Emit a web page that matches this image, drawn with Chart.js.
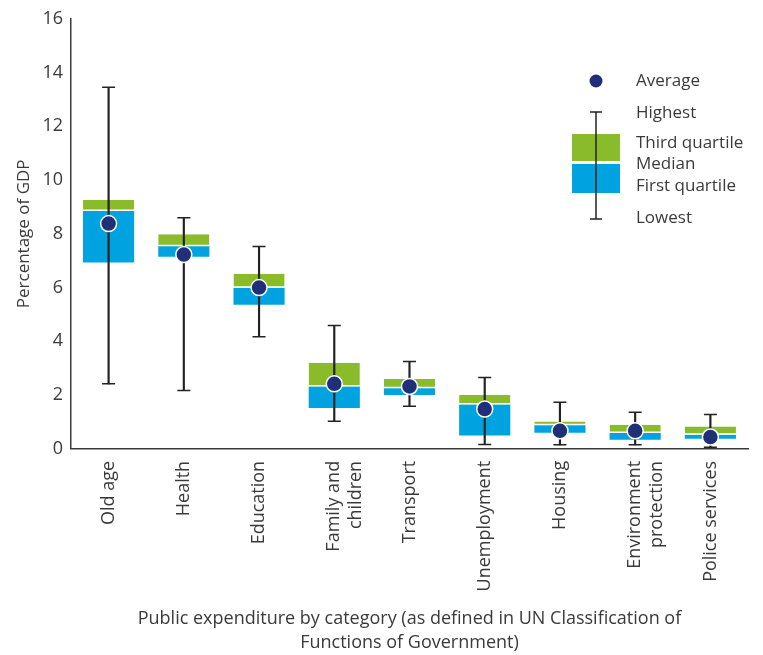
<!DOCTYPE html>
<html>
<head>
<meta charset="utf-8">
<script src="https://cdn.jsdelivr.net/npm/chart.js@4.4.1/dist/chart.umd.min.js"></script>
<style>
  body { margin: 0; background: #fff; }
  #wrap { width: 763px; height: 655px; }
</style>
</head>
<body>
<div id="wrap"><canvas id="myChart" width="763" height="655"></canvas></div>
<script>
// spending categories and the box plot numbers (% of GDP)
let categories = ['Old age', 'Health', 'Education', ['Family and', 'children'], 'Transport', 'Unemployment', 'Housing', ['Environment', 'protection'], 'Police services'];
let highest = [13.45, 8.6, 7.53, 4.59, 3.25, 2.65, 1.73, 1.36, 1.28];
let lowest = [2.42, 2.17, 4.17, 1.03, 1.58, 0.16, 0.15, 0.15, 0.06];
let thirdQuartile = [9.26, 7.98, 6.51, 3.2, 2.6, 2.0, 1.02, 0.9, 0.83];
let median = [8.85, 7.54, 5.99, 2.32, 2.25, 1.65, 0.88, 0.59, 0.52];
let firstQuartile = [6.93, 7.15, 5.36, 1.52, 2.0, 0.5, 0.6, 0.34, 0.38];
let average = [8.38, 7.23, 6.0, 2.42, 2.32, 1.48, 0.67, 0.67, 0.44];
let yTicks = [0, 2, 4, 6, 8, 10, 12, 14, 16];

let green = '#8abb2a';
let blue = '#00a3df';
let navy = '#1f2f78';
let ink = '#3a3a3a';

let lowerBox = firstQuartile.map((v, i) => [v, median[i]]);
let upperBox = median.map((v, i) => [v, thirdQuartile[i]]);
let whisker = lowest.map((v, i) => [v, highest[i]]);

// hand drawn key in the top right corner
let keyPlugin = {
    id: 'boxKey',
    afterDraw: function(chart) {
        let c = chart.ctx;
        c.save();
        c.fillStyle = green;
        c.fillRect(572, 134, 48, 27);
        c.fillStyle = blue;
        c.fillRect(572, 164, 48, 29);
        c.strokeStyle = '#222';
        c.lineWidth = 1.5;
        c.beginPath();
        c.moveTo(596, 112); c.lineTo(596, 219);
        c.moveTo(590, 112); c.lineTo(602, 112);
        c.moveTo(590, 219); c.lineTo(602, 219);
        c.stroke();
        c.fillStyle = navy;
        c.beginPath();
        c.arc(596, 81, 6.5, 0, Math.PI * 2);
        c.fill();
        c.fillStyle = ink;
        c.font = '17px "Open Sans"';
        c.textBaseline = 'middle';
        c.fillText('Average', 636, 81);
        c.fillText('Highest', 636, 113);
        c.fillText('Third quartile', 636, 143);
        c.fillText('Median', 636, 164);
        c.fillText('First quartile', 636, 186);
        c.fillText('Lowest', 636, 218);
        c.restore();
    }
};

Chart.defaults.font.family = '"Open Sans", sans-serif';
Chart.defaults.color = ink;

var ctx = document.getElementById('myChart').getContext('2d');
var chart = new Chart(ctx, {
    type: 'bar',
    data: {
        labels: categories,
        datasets: [
            {
                type: 'line',
                label: 'Average',
                data: average,
                showLine: false,
                pointRadius: 8,
                pointBackgroundColor: navy,
                pointBorderColor: '#ffffff',
                pointBorderWidth: 1.5,
                order: 0
            },
            {
                type: 'line',
                label: 'Highest',
                data: highest,
                showLine: false,
                pointStyle: 'line',
                pointRadius: 6.5,
                pointBorderColor: '#222',
                pointBorderWidth: 1.5,
                order: 1
            },
            {
                type: 'line',
                label: 'Lowest',
                data: lowest,
                showLine: false,
                pointStyle: 'line',
                pointRadius: 6.5,
                pointBorderColor: '#222',
                pointBorderWidth: 1.5,
                order: 1
            },
            {
                label: 'Range',
                data: whisker,
                backgroundColor: '#222',
                barThickness: 1.5,
                order: 2
            },
            {
                label: 'Third quartile',
                data: upperBox,
                backgroundColor: green,
                borderColor: '#ffffff',
                borderWidth: {bottom: 1.5, top: 0, left: 0, right: 0},
                borderSkipped: false,
                barPercentage: 0.68,
                categoryPercentage: 1,
                order: 3
            },
            {
                label: 'First quartile',
                data: lowerBox,
                backgroundColor: blue,
                barPercentage: 0.68,
                categoryPercentage: 1,
                order: 4
            }
        ]
    },
    options: {
        responsive: false,
        animation: false,
        layout: { padding: { top: 10, right: 15, left: 14, bottom: 0 } },
        plugins: {
            legend: { display: false },
            tooltip: { enabled: false }
        },
        scales: {
            x: {
                stacked: true,
                grid: { display: false, drawTicks: false },
                border: { color: ink, width: 1.5 },
                ticks: { minRotation: 90, maxRotation: 90, padding: 12, font: { size: 18 } },
                title: {
                    display: true,
                    text: ['Public expenditure by category (as defined in UN Classification of', 'Functions of Government)'],
                    font: { size: 18, lineHeight: 1.35 },
                    padding: { top: 3, bottom: 0 }
                }
            },
            y: {
                min: 0,
                max: 16,
                afterBuildTicks: function(axis) {
                    axis.ticks = yTicks.map(v => ({ value: v }));
                },
                grid: { display: false, drawTicks: false },
                border: { color: ink, width: 1.5 },
                ticks: { padding: 8, font: { size: 18 } },
                title: {
                    display: true,
                    text: 'Percentage of GDP',
                    font: { size: 17 },
                    padding: { top: 0, bottom: 0 }
                }
            }
        }
    },
    plugins: [keyPlugin]
});
</script>
</body>
</html>
